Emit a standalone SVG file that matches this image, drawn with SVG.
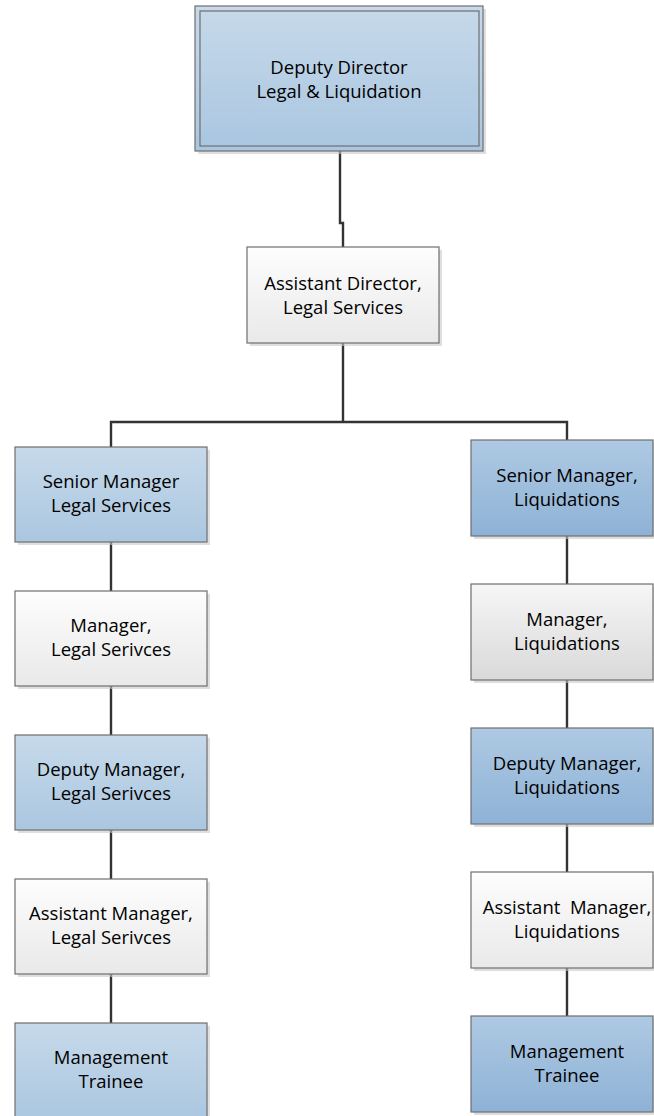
<svg xmlns="http://www.w3.org/2000/svg" width="654" height="1116" viewBox="0 0 654 1116">
<defs>
<linearGradient id="gTop" x1="0" y1="0" x2="0" y2="1"><stop offset="0" stop-color="#c7d9ea"/><stop offset="1" stop-color="#a9c6e0"/></linearGradient>
<linearGradient id="gLB" x1="0" y1="0" x2="0" y2="1"><stop offset="0" stop-color="#c6d9ea"/><stop offset="1" stop-color="#abc7e0"/></linearGradient>
<linearGradient id="gRB" x1="0" y1="0" x2="0" y2="1"><stop offset="0" stop-color="#aec9e3"/><stop offset="1" stop-color="#8eb2d6"/></linearGradient>
<linearGradient id="gW" x1="0" y1="0" x2="0" y2="1"><stop offset="0" stop-color="#fdfdfd"/><stop offset="1" stop-color="#e9e9e9"/></linearGradient>
<linearGradient id="gG" x1="0" y1="0" x2="0" y2="1"><stop offset="0" stop-color="#f6f6f6"/><stop offset="1" stop-color="#d9d9d9"/></linearGradient>
</defs>
<style>
.box{stroke:#6e6e6e;stroke-width:1.2}
.sh{fill:#c8c8c8;opacity:0.6}
.t{font-family:"Open Sans","Liberation Sans",sans-serif;font-size:18.5px;fill:#000;text-anchor:middle;white-space:pre}
.c{fill:none;stroke:#333;stroke-width:2.4}
</style>
<g id="connectors">
<path class="c" d="M340,151 V223 H343 V247"/>
<path class="c" d="M343,343 V422"/>
<path class="c" d="M111,447 V422 H567 V440"/>
<path class="c" d="M111,542 V591 M111,686 V735 M111,830 V879 M111,974 V1023"/>
<path class="c" d="M567,536 V584 M567,680 V728 M567,824 V872 M567,968 V1016"/>
</g>
<g id="n-deputy-director">
<rect class="sh" x="198" y="9" width="288" height="145"/>
<rect class="box" x="195" y="6" width="288" height="145" fill="url(#gTop)"/>
<rect class="box" x="200" y="11" width="279" height="135" fill="none"/>
<text class="t" x="339" y="74">Deputy Director</text>
<text class="t" x="339" y="98">Legal &amp; Liquidation</text>
</g>
<g id="n-assistant-director">
<rect class="sh" x="250" y="250" width="192" height="96"/>
<rect class="box" x="247" y="247" width="192" height="96" fill="url(#gW)"/>
<text class="t" x="343" y="290">Assistant Director,</text>
<text class="t" x="343" y="314">Legal Services</text>
</g>
<g id="n-sm-legal">
<rect class="sh" x="18" y="450" width="192" height="95"/>
<rect class="box" x="15" y="447" width="192" height="95" fill="url(#gLB)"/>
<text class="t" x="111" y="488">Senior Manager</text>
<text class="t" x="111" y="512">Legal Services</text>
</g>
<g id="n-m-legal">
<rect class="sh" x="18" y="594" width="192" height="95"/>
<rect class="box" x="15" y="591" width="192" height="95" fill="url(#gW)"/>
<text class="t" x="111" y="632">Manager,</text>
<text class="t" x="111" y="656">Legal Serivces</text>
</g>
<g id="n-dm-legal">
<rect class="sh" x="18" y="738" width="192" height="95"/>
<rect class="box" x="15" y="735" width="192" height="95" fill="url(#gLB)"/>
<text class="t" x="111" y="776">Deputy Manager,</text>
<text class="t" x="111" y="800">Legal Serivces</text>
</g>
<g id="n-am-legal">
<rect class="sh" x="18" y="882" width="192" height="95"/>
<rect class="box" x="15" y="879" width="192" height="95" fill="url(#gW)"/>
<text class="t" x="111" y="920">Assistant Manager,</text>
<text class="t" x="111" y="944">Legal Serivces</text>
</g>
<g id="n-mt-legal">
<rect class="sh" x="18" y="1026" width="192" height="95"/>
<rect class="box" x="15" y="1023" width="192" height="95" fill="url(#gLB)"/>
<text class="t" x="111" y="1064">Management</text>
<text class="t" x="111" y="1088">Trainee</text>
</g>
<g id="n-sm-liq">
<rect class="sh" x="474" y="443" width="182" height="96"/>
<rect class="box" x="471" y="440" width="182" height="96" fill="url(#gRB)"/>
<text class="t" x="567" y="482">Senior Manager,</text>
<text class="t" x="567" y="506">Liquidations</text>
</g>
<g id="n-m-liq">
<rect class="sh" x="474" y="587" width="182" height="96"/>
<rect class="box" x="471" y="584" width="182" height="96" fill="url(#gG)"/>
<text class="t" x="567" y="626">Manager,</text>
<text class="t" x="567" y="650">Liquidations</text>
</g>
<g id="n-dm-liq">
<rect class="sh" x="474" y="731" width="182" height="96"/>
<rect class="box" x="471" y="728" width="182" height="96" fill="url(#gRB)"/>
<text class="t" x="567" y="770">Deputy Manager,</text>
<text class="t" x="567" y="794">Liquidations</text>
</g>
<g id="n-am-liq">
<rect class="sh" x="474" y="875" width="182" height="96"/>
<rect class="box" x="471" y="872" width="182" height="96" fill="url(#gW)"/>
<text class="t" x="567" y="914">Assistant  Manager,</text>
<text class="t" x="567" y="938">Liquidations</text>
</g>
<g id="n-mt-liq">
<rect class="sh" x="474" y="1019" width="182" height="96"/>
<rect class="box" x="471" y="1016" width="182" height="96" fill="url(#gRB)"/>
<text class="t" x="567" y="1058">Management</text>
<text class="t" x="567" y="1082">Trainee</text>
</g>
</svg>
